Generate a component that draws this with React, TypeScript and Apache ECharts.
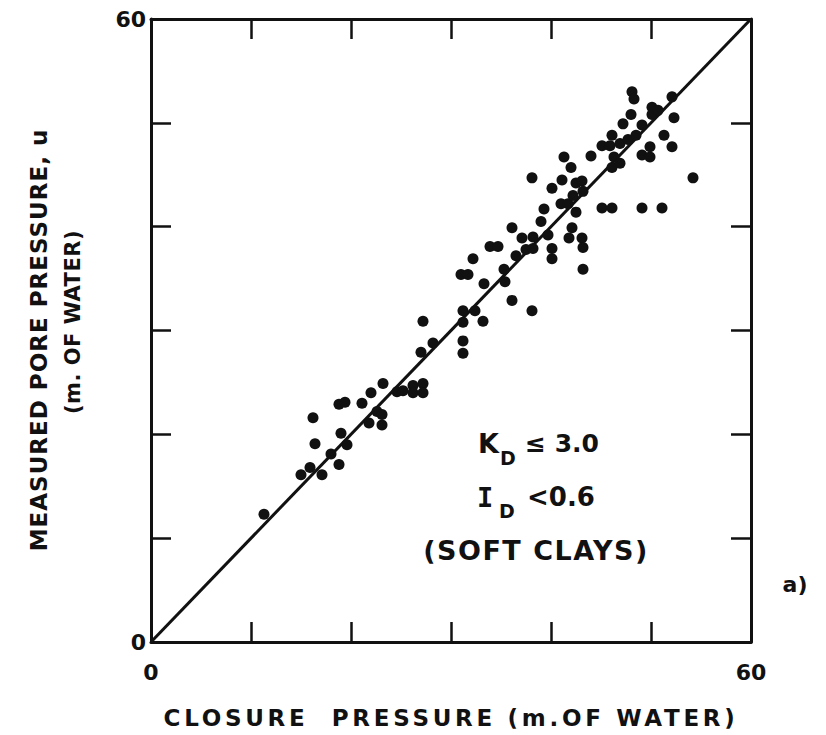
import React, { useEffect, useRef } from "react";
import * as echarts from "echarts";

// Closure pressure (x) and measured pore pressure (y), m of water
const closureX = [
  11.3, 16.2, 15.0, 15.9, 16.4, 17.1, 18.0, 18.8, 18.8, 19.4, 19.0, 19.6,
  21.1, 22.0, 21.8, 22.6, 23.1, 23.1, 23.2, 24.6, 25.2, 26.2, 26.2, 27.2,
  27.2, 27.2, 27.0, 28.2, 31.0, 31.7, 32.2, 31.2, 31.2, 32.4, 31.2, 31.2,
  33.2, 33.3, 33.9, 34.7, 35.3, 35.4, 36.1, 36.1, 36.5, 37.1, 37.5, 38.2,
  38.2, 38.1, 38.1, 39.0, 39.3, 39.7, 40.1, 40.1, 40.1, 41.1, 41.3, 42.0,
  41.0, 41.7, 42.2, 42.5, 43.1, 43.2, 42.5, 42.1, 41.8, 43.1, 43.2, 43.2,
  44.0, 45.1, 46.1, 45.1, 45.9, 46.1, 46.3, 46.1, 46.9, 46.9, 47.2, 48.0,
  48.1, 48.3, 47.7, 48.5, 49.1, 49.1, 49.9, 49.9, 50.1, 49.1, 51.1, 50.1,
  50.7, 51.3, 52.1, 52.3, 52.1, 54.2,
];
const poreY = [
  12.3, 21.6, 16.1, 16.8, 19.1, 16.1, 18.1, 17.1, 22.9, 23.1, 20.1, 19.0,
  23.0, 24.0, 21.1, 22.2, 20.9, 21.9, 24.9, 24.1, 24.2, 24.7, 24.0, 24.9,
  24.0, 30.9, 27.9, 28.8, 35.4, 35.4, 36.9, 31.9, 30.8, 31.9, 29.0, 27.8,
  30.9, 34.5, 38.1, 38.1, 35.9, 34.7, 32.9, 39.9, 37.2, 38.9, 37.8, 39.0,
  37.9, 31.9, 44.7, 40.5, 41.7, 39.2, 43.7, 37.9, 36.9, 44.5, 46.7, 45.7,
  42.2, 42.2, 43.0, 44.2, 44.4, 43.4, 41.4, 39.9, 38.9, 38.9, 38.0, 35.9,
  46.8, 41.8, 41.8, 47.8, 47.8, 48.8, 46.7, 45.7, 48.0, 46.1, 49.9, 50.8,
  53.0, 52.3, 48.4, 48.8, 49.8, 46.9, 46.7, 47.7, 51.5, 41.8, 41.8, 50.8,
  51.2, 48.8, 47.7, 50.5, 52.5, 44.7,
];

// 1:1 reference line
const lineX = [0, 60];
const lineY = [0, 60];

// axis range / ticks
const axisMin = 0;
const axisMax = 60;
const tickStep = 10;
const shownTickLabels = [0, 60];

const xTitle = "CLOSURE  PRESSURE (m.OF WATER)";
const yTitle1 = "MEASURED PORE PRESSURE, u";
const yTitle2 = "(m. OF WATER)";
const noteSoft = "(SOFT CLAYS)";

const INK = "#111";

export default function App() {
  const ref = useRef<HTMLDivElement>(null);

  useEffect(() => {
    if (!ref.current) return;
    const chart = echarts.init(ref.current, null, { renderer: "svg" });

    const pts = closureX.map((x, i) => [x, poreY[i]]);
    const linePts = lineX.map((x, i) => [x, lineY[i]]);

    const labelFmt = (v: number) =>
      shownTickLabels.indexOf(v) >= 0 ? String(v) : "";

    const baseAxis = {
      type: "value",
      min: axisMin,
      max: axisMax,
      interval: tickStep,
      splitLine: { show: false },
      axisLine: { show: true, onZero: false, lineStyle: { color: INK, width: 3 } },
      axisTick: { show: true, inside: true, length: 20, lineStyle: { color: INK, width: 2.5 } },
    };

    const F = "DejaVu Sans";
    const t = (x: number, y: number, text: string, font: string, align = "left", extra: any = {}) => ({
      type: "text",
      x,
      y,
      ...extra,
      style: {
        text,
        fill: INK,
        font,
        textAlign: align,
        textVerticalAlign: "middle",
        align,
        verticalAlign: "middle",
      },
    });

    const option: any = {
      animation: false,
      backgroundColor: "#ffffff",
      grid: {
        left: 151,
        top: 19,
        right: 75,
        bottom: 93,
        containLabel: false,
        outerBoundsMode: "none",
      },
      xAxis: [
        {
          ...baseAxis,
          position: "bottom",
          axisLabel: {
            show: true,
            formatter: labelFmt,
            margin: 19,
            color: INK,
            fontFamily: F,
            fontWeight: "bold",
            fontSize: 22,
            showMinLabel: true,
            showMaxLabel: true,
          },
        },
        { ...baseAxis, position: "top", axisLabel: { show: false } },
      ],
      yAxis: [
        {
          ...baseAxis,
          position: "left",
          axisLabel: {
            show: true,
            formatter: labelFmt,
            margin: 5,
            color: INK,
            fontFamily: F,
            fontWeight: "bold",
            fontSize: 22,
            showMinLabel: true,
            showMaxLabel: true,
          },
        },
        { ...baseAxis, position: "right", axisLabel: { show: false } },
      ],
      series: [
        {
          type: "line",
          data: linePts,
          xAxisIndex: 0,
          yAxisIndex: 0,
          symbol: "none",
          lineStyle: { color: INK, width: 3 },
          silent: true,
          z: 3,
        },
        {
          type: "scatter",
          data: pts,
          xAxisIndex: 0,
          yAxisIndex: 0,
          symbol: "circle",
          symbolSize: 11,
          itemStyle: { color: INK, opacity: 1 },
          z: 4,
        },
      ],
      graphic: [
        t(451, 718, xTitle, `bold 23px "${F}"`, "center"),
        t(39, 340, yTitle1, `bold 23px "${F}"`, "center", { rotation: Math.PI / 2 }),
        t(73, 322, yTitle2, `bold 21px "${F}"`, "center", { rotation: Math.PI / 2 }),
        // K_D <= 3.0
        t(478, 443, "K", `bold 27px "${F}"`),
        t(500, 458, "D", `bold 19px "${F}"`),
        t(525, 443, "≤ 3.0", `bold 25px "${F}"`),
        // I_D < 0.6
        t(477, 497, "I", `bold 27px "DejaVu Sans Mono"`),
        t(499, 511, "D", `bold 19px "${F}"`),
        t(527, 497, "<0.6", `bold 26px "${F}"`),
        t(536, 550, noteSoft, `bold 27px "${F}"`, "center"),
        t(795, 584, "a)", `bold 22px "${F}"`, "center"),
      ],
    };

    chart.setOption(option);

    const spacing: Record<string, number> = {
      [xTitle]: 3.7,
      [yTitle1]: 1,
      [yTitle2]: 0.5,
      [noteSoft]: 1.5,
    };
    const applySpacing = () => {
      const root = ref.current;
      if (!root) return;
      root.querySelectorAll("text").forEach((el) => {
        const s = spacing[el.textContent || ""];
        if (s !== undefined) {
          el.setAttribute("letter-spacing", String(s));
          (el as any).style.whiteSpace = "pre";
        }
      });
    };
    try {
      (chart as any).getZr().flush();
    } catch (e) {}
    applySpacing();
    chart.on("finished", applySpacing);

    return () => {
      chart.dispose();
    };
  }, []);

  return (
    <div
      ref={ref}
      style={{ position: "fixed", left: 0, top: 0, width: 826, height: 735, background: "#fff" }}
    />
  );
}
